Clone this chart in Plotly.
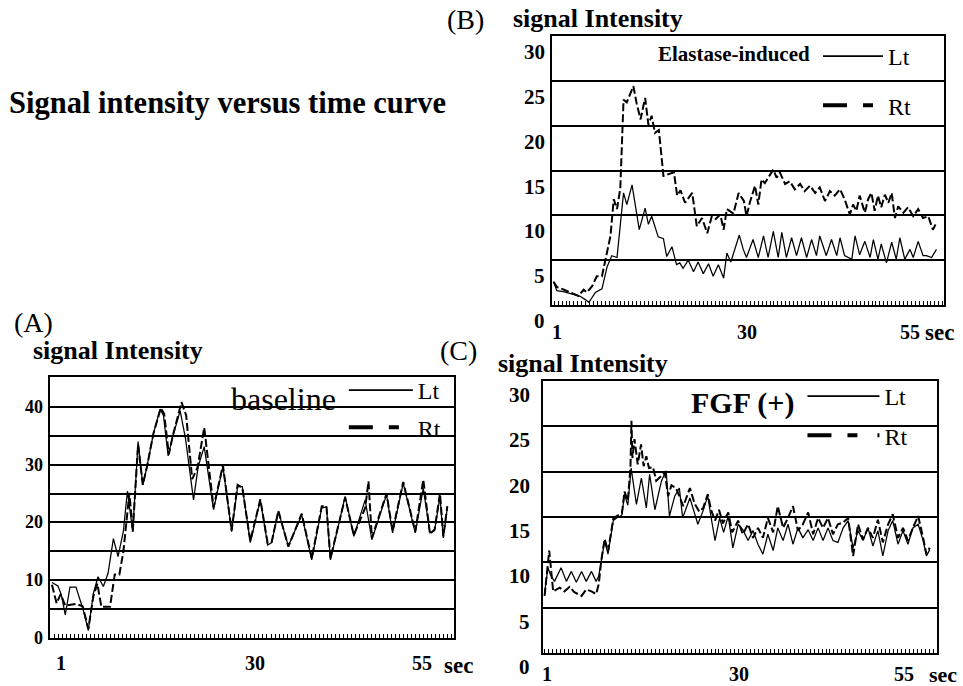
import plotly.graph_objects as go

W, H = 963, 686
FONT = "Liberation Serif"

# ---------------- data: t = time (sec), v = signal intensity ----------------
# (A) baseline
a_lt_t = [-0.4, 0.5, 1.0, 1.6, 2.3, 3.2, 4.3, 5.05, 5.8, 6.5, 7.3, 8.0, 8.8, 9.5, 10.3, 10.9, 11.7, 12.5, 13.2, 13.8,
          14.8, 15.8, 16.3, 17.0, 17.6, 18.8, 19.6, 20.8, 21.5, 22.4, 23.8, 25.2, 26.5, 27.4, 28.1, 29.3, 30.8, 31.9, 32.5, 33.5,
          35.0, 37.0, 38.5, 40.0, 40.7, 41.3, 43.5, 44.8, 46.5, 47.5, 49.7, 50.6, 52.2, 54.0, 55.2, 56.2, 56.9, 57.7, 58.2, 58.8]
a_lt_v = [9.6, 9.0, 7.5, 4.0, 8.8, 8.8, 4.8, 1.3, 7.7, 10.6, 8.9, 11.2, 17.2, 14.1, 18.5, 25.4, 18.5, 34.0, 26.5, 29.5,
          35.4, 39.6, 38.5, 31.5, 34.5, 39.3, 34.5, 23.9, 29.7, 33.1, 22.2, 29.7, 18.4, 26.2, 26.2, 16.5, 23.9, 16.1, 16.5, 21.9,
          15.9, 21.3, 13.5, 22.5, 22.7, 13.5, 24.5, 17.6, 23.9, 17.0, 24.8, 18.2, 26.8, 18.2, 25.9, 18.2, 18.6, 24.5, 17.3, 22.5]
a_rt_t = [-0.4, 0.3, 0.9, 1.6, 3.2, 4.2, 5.05, 5.8, 6.4, 7.0, 8.3, 9.0, 9.7, 10.3, 11.2, 11.7, 12.5, 13.2, 13.8, 14.8,
          15.9, 16.4, 17.1, 17.7, 19.0, 19.7, 20.6, 21.4, 22.4, 23.8, 25.2, 26.5, 27.4, 28.1, 29.3, 30.8, 31.9, 32.5, 33.5, 35.0,
          37.0, 38.5, 40.0, 40.7, 41.3, 43.5, 44.8, 46.5, 47.0, 47.5, 49.7, 50.6, 52.2, 54.0, 55.2, 56.2, 56.9, 57.7, 58.2, 58.8]
a_rt_v = [9.2, 6.0, 7.6, 5.6, 5.9, 5.5, 1.6, 7.2, 9.4, 5.4, 5.4, 11.0, 11.0, 15.0, 25.1, 18.4, 33.5, 26.5, 29.5, 35.4,
          39.8, 38.8, 31.8, 35.0, 40.8, 38.5, 27.5, 29.5, 36.4, 22.6, 29.9, 18.6, 26.5, 26.0, 16.8, 24.0, 16.4, 16.6, 22.0, 15.8,
          21.5, 13.8, 22.8, 22.8, 13.8, 24.3, 17.8, 22.5, 27.1, 17.3, 25.0, 18.5, 27.0, 18.4, 27.4, 18.0, 18.8, 25.0, 17.6, 22.8]

# (B) Elastase-induced
b_lt_t = [0.5, 1.0, 2.0, 3.3, 4.5, 5.35, 5.9, 6.9, 7.9, 8.7, 9.4, 10.2, 10.9, 11.2, 11.7, 12.5, 13.6, 14.5, 15.0, 15.5,
          16.5, 17.3, 17.8, 18.6, 19.3, 19.8, 20.3, 21.1, 21.9, 22.6, 23.4, 24.2, 24.9, 25.7, 26.5, 27.0, 27.6, 28.9, 29.5, 30.0,
          31.0, 31.8, 32.6, 33.3, 34.1, 34.85, 35.4, 36.1, 36.9, 37.65, 38.4, 39.2, 39.95, 40.7, 41.2, 42.2, 43.0, 43.8, 44.3, 45.0,
          46.1, 46.6, 47.3, 48.1, 48.9, 49.4, 50.1, 50.6, 51.4, 52.2, 52.9, 53.45, 54.2, 55.0, 55.5, 56.25, 57.0, 57.5, 58.3, 59.05]
b_lt_v = [2.6, 1.6, 1.5, 1.2, 1.0, 0.6, 0.3, 1.4, 1.8, 4.3, 5.5, 5.3, 10.2, 12.5, 11.2, 13.4, 8.4, 10.8, 9.0, 9.9,
          7.6, 7.4, 5.4, 6.5, 4.5, 4.7, 4.1, 5.0, 3.7, 4.8, 3.5, 4.6, 3.2, 4.5, 3.0, 5.8, 4.8, 7.8, 6.2, 5.3,
          7.3, 5.3, 7.7, 5.3, 8.2, 5.3, 8.1, 5.3, 7.5, 5.5, 7.5, 5.3, 7.3, 5.5, 7.7, 5.5, 7.3, 5.5, 7.5, 5.5,
          5.1, 7.7, 5.6, 7.1, 5.3, 7.3, 5.1, 6.8, 4.7, 7.0, 5.1, 7.5, 5.1, 6.2, 5.3, 7.1, 5.5, 5.5, 5.3, 6.2]
b_rt_t = [0.5, 1.0, 1.8, 2.8, 4.3, 5.1, 5.6, 6.4, 7.1, 7.9, 8.7, 9.2, 9.7, 10.2, 10.7, 11.2, 11.7, 12.2, 12.7, 13.2,
          13.8, 14.5, 15.0, 15.5, 16.0, 16.6, 17.3, 18.1, 18.9, 19.4, 19.9, 20.6, 21.7, 22.4, 23.2, 24.0, 24.7, 25.3, 26.0, 26.5,
          27.0, 28.0, 28.8, 29.6, 30.0, 30.5, 31.3, 31.8, 32.3, 32.8, 33.6, 34.1, 34.6, 35.1, 35.9, 36.6, 37.4, 38.2, 38.9, 39.7,
          40.5, 41.2, 42.0, 42.75, 43.5, 44.3, 45.0, 45.8, 46.3, 46.8, 47.3, 48.1, 48.6, 49.1, 49.6, 50.1, 50.6, 51.15, 51.7, 52.2,
          52.7, 53.2, 54.0, 54.7, 55.5, 56.25, 57.0, 57.8, 58.5, 59.05]
b_rt_v = [2.6, 2.0, 1.8, 1.5, 1.0, 1.7, 1.4, 2.1, 3.2, 3.2, 5.8, 7.7, 11.8, 10.7, 13.0, 22.9, 22.6, 23.5, 24.4, 22.5,
          20.7, 23.1, 20.1, 21.1, 19.2, 19.5, 14.4, 14.6, 14.8, 12.2, 12.8, 11.4, 12.5, 8.8, 9.7, 8.0, 9.9, 9.6, 10.1, 8.4,
          10.7, 10.2, 12.5, 11.6, 9.9, 11.4, 13.3, 11.2, 14.0, 13.6, 14.6, 15.1, 14.2, 14.8, 13.5, 13.8, 12.9, 13.5, 12.7, 13.3,
          12.5, 13.1, 11.6, 12.7, 12.2, 12.9, 11.8, 10.1, 11.2, 10.5, 12.2, 10.3, 11.8, 12.5, 10.5, 12.2, 10.9, 12.3, 11.4, 12.5,
          9.7, 11.0, 10.3, 10.9, 9.9, 10.7, 9.7, 9.9, 8.4, 9.2]

# (C) FGF (+)
c_lt_t = [0.6, 1.1, 1.5, 2.1, 3.1, 3.9, 4.65, 5.4, 6.2, 6.9, 7.7, 8.4, 8.8, 9.2, 9.7, 10.2, 11.0, 11.5, 12.3, 12.7,
          13.2, 13.7, 14.5, 15.25, 16.0, 16.5, 17.3, 18.3, 19.0, 19.5, 20.3, 21.0, 21.5, 22.6, 23.2, 23.8, 24.6, 25.3, 25.8, 26.4,
          27.1, 27.7, 28.4, 29.1, 29.9, 30.6, 31.4, 32.15, 32.9, 33.65, 34.4, 35.2, 35.9, 36.7, 37.45, 38.2, 38.95, 39.7, 40.5, 41.25,
          42.0, 42.75, 43.5, 44.25, 45.0, 45.8, 46.55, 47.3, 48.05, 48.8, 49.55, 50.3, 51.05, 51.8, 52.6, 53.3, 54.1, 54.85, 55.6, 56.35,
          57.15, 57.9, 58.4, 58.9]
c_lt_v = [6.6, 9.4, 8.6, 7.9, 9.4, 7.9, 9.0, 7.8, 9.0, 7.9, 9.0, 7.9, 8.5, 10.1, 12.4, 10.9, 14.6, 14.9, 15.2, 17.5,
          16.3, 20.4, 16.4, 19.3, 16.0, 19.7, 15.8, 19.0, 20.1, 15.1, 17.3, 18.2, 14.9, 17.1, 15.5, 14.2, 15.7, 17.3, 15.0, 12.4,
          14.9, 13.3, 15.1, 11.6, 14.2, 13.6, 12.4, 13.5, 12.0, 10.9, 13.1, 11.3, 13.8, 12.4, 14.2, 12.0, 13.8, 12.7, 13.6, 12.4,
          13.8, 12.4, 13.8, 12.4, 12.2, 13.8, 14.6, 11.6, 13.5, 12.4, 13.8, 11.8, 13.5, 10.7, 13.5, 14.6, 12.0, 13.5, 12.0, 13.8,
          14.2, 12.4, 10.7, 11.4]
c_rt_t = [0.6, 1.3, 1.9, 2.9, 3.6, 4.4, 5.1, 6.2, 6.9, 7.7, 8.4, 8.8, 9.2, 9.7, 10.2, 11.0, 11.5, 12.3, 12.7, 13.2,
          13.6, 13.75, 13.9, 14.2, 14.7, 15.2, 15.6, 16.0, 16.4, 17.0, 17.5, 18.3, 18.8, 19.3, 19.8, 20.5, 21.0, 21.6, 22.6, 23.3,
          24.0, 24.6, 25.3, 25.8, 26.4, 27.0, 27.6, 28.4, 29.0, 29.9, 30.6, 31.4, 32.15, 32.9, 33.65, 34.4, 35.2, 35.9, 36.7, 37.45,
          38.2, 38.95, 39.7, 40.5, 41.25, 42.0, 42.75, 43.5, 44.25, 45.0, 45.8, 46.55, 47.3, 48.05, 48.8, 49.55, 50.3, 51.05, 51.8, 52.6,
          53.3, 54.1, 54.85, 55.6, 56.35, 57.15, 57.9, 58.4, 58.9]
c_rt_v = [6.3, 11.3, 6.8, 7.2, 6.8, 7.3, 6.7, 6.3, 7.0, 6.8, 6.5, 7.6, 10.3, 12.6, 11.2, 14.8, 15.1, 15.4, 17.8, 16.8,
          20.5, 25.6, 21.5, 23.6, 20.8, 23.0, 20.6, 21.7, 20.4, 20.5, 19.0, 19.5, 19.9, 17.3, 18.5, 18.2, 17.3, 16.2, 18.2, 16.5,
          15.6, 16.0, 17.5, 15.8, 14.6, 15.8, 14.3, 15.5, 13.3, 14.6, 13.1, 14.2, 12.7, 13.8, 12.7, 14.9, 13.3, 16.2, 13.8, 14.9,
          16.2, 13.5, 14.2, 15.5, 13.1, 14.9, 13.8, 14.9, 13.1, 14.2, 14.4, 14.9, 10.7, 14.2, 12.5, 13.8, 12.7, 14.7, 12.2, 14.2,
          15.3, 12.7, 13.8, 12.4, 13.8, 15.1, 12.7, 10.9, 11.6]

# tick labels
a_ytick_vals = [0, 10, 20, 30, 40]
bc_ytick_vals = [0, 5, 10, 15, 20, 25, 30]
x_tick_vals = [1, 30, 55]
series_names = ["Lt", "Rt"]
panel_titles = ["baseline", "Elastase-induced", "FGF (+)"]

# ---------------- figure ----------------
fig = go.Figure()
LT_LINE = dict(color="black", width=1.25)
RT_LINE = dict(color="black", width=2.0, dash="8px,3px")

panels = [
    ("x", "y", "legend", a_lt_t, a_lt_v, a_rt_t, a_rt_v),
    ("x2", "y2", "legend2", b_lt_t, b_lt_v, b_rt_t, b_rt_v),
    ("x3", "y3", "legend3", c_lt_t, c_lt_v, c_rt_t, c_rt_v),
]
for xa, ya, leg, lt_t, lt_v, rt_t, rt_v in panels:
    fig.add_trace(go.Scatter(x=lt_t, y=lt_v, mode="lines", line=LT_LINE, xaxis=xa, yaxis=ya,
                             showlegend=False, hoverinfo="skip"))
    fig.add_trace(go.Scatter(x=rt_t, y=rt_v, mode="lines", line=RT_LINE, xaxis=xa, yaxis=ya,
                             showlegend=False, hoverinfo="skip"))
    # legend keys
    fig.add_trace(go.Scatter(x=[None], y=[None], mode="lines", name=series_names[0], xaxis=xa, yaxis=ya,
                             line=dict(color="black", width=1.6), legend=leg, legendgroup=leg + "lt"))
    fig.add_trace(go.Scatter(x=[None], y=[None], mode="lines", name=series_names[1], xaxis=xa, yaxis=ya,
                             line=dict(color="black", width=4, dash="24px,16px,10px,20px"),
                             legend=leg, legendgroup=leg + "rt"))

def xax(domain, rng, anchor):
    return dict(domain=domain, range=rng, anchor=anchor, showgrid=False, zeroline=False,
                showline=True, mirror=True, linecolor="black", linewidth=1.6,
                tickmode="linear", tick0=0, dtick=0.6, ticks="inside", ticklen=4,
                tickcolor="black", tickwidth=1, showticklabels=False)

def yax(domain, rng, anchor, grid_vals):
    return dict(domain=domain, range=rng, anchor=anchor, zeroline=False,
                showline=True, mirror=True, linecolor="black", linewidth=1.6,
                tickmode="array", tickvals=grid_vals, ticktext=[""] * len(grid_vals),
                ticks="", showgrid=True, gridcolor="black", gridwidth=1.5)

fig.update_layout(
    width=W, height=H, margin=dict(l=0, r=0, t=0, b=0),
    paper_bgcolor="white", plot_bgcolor="white",
    font=dict(family=FONT, color="black"),
    xaxis=xax([50 / W, 454 / W], [-0.69, 59.8], "y"),
    yaxis=yax([1 - 638 / H, 1 - 377 / H], [0, 45.16], "x", list(range(0, 45, 5))),
    xaxis2=xax([552 / W, 944 / W], [0.26, 60.2], "y2"),
    yaxis2=yax([1 - 305 / H, 1 - 36 / H], [0, 30], "x2", bc_ytick_vals),
    xaxis3=xax([543 / W, 937 / W], [0.36, 60.0], "y3"),
    yaxis3=yax([1 - 653 / H, 1 - 381 / H], [0, 30], "x3", bc_ytick_vals),
    hovermode=False,
)

common_leg = dict(xanchor="left", yanchor="top", bgcolor="rgba(0,0,0,0)", borderwidth=0,
                  font=dict(family=FONT, size=24, color="black"))
fig.update_layout(
    legend=dict(x=229 / W, y=1 - 368 / H, tracegroupgap=3, itemwidth=64,
                title=dict(text=panel_titles[0], side="left", font=dict(family=FONT, size=32)),
                **common_leg),
    legend2=dict(x=656 / W, y=1 - 34 / H, tracegroupgap=15, itemwidth=60,
                 title=dict(text=panel_titles[1], side="left",
                            font=dict(family=FONT, size=21, weight="bold")),
                 **common_leg),
    legend3=dict(x=689 / W, y=1 - 374 / H, tracegroupgap=5, itemwidth=72,
                 title=dict(text=panel_titles[2], side="left",
                            font=dict(family=FONT, size=30, weight="bold")),
                 **common_leg),
)

ann = []
def txt(text, x, y, size, bold=False, xanchor="left", yanchor="middle", **kw):
    d = dict(text=text, x=x, y=y, showarrow=False, xanchor=xanchor, yanchor=yanchor,
             font=dict(family=FONT, size=size, color="black", weight="bold" if bold else "normal"))
    d.update(kw)
    ann.append(d)

# titles
txt("Signal intensity versus time curve", 7 / W, 1 - 103 / H, 30.5, True, xref="paper", yref="paper")
txt("(A)", 12 / W, 1 - 322 / H, 28, xref="paper", yref="paper")
txt("signal Intensity", 31 / W, 1 - 350 / H, 26, True, xref="paper", yref="paper")
txt("(B)", 445 / W, 1 - 20 / H, 28, xref="paper", yref="paper")
txt("signal Intensity", 511 / W, 1 - 18 / H, 26, True, xref="paper", yref="paper")
txt("(C)", 438 / W, 1 - 350 / H, 28, xref="paper", yref="paper")
txt("signal Intensity", 496 / W, 1 - 363 / H, 26, True, xref="paper", yref="paper")

# y tick labels
for v in a_ytick_vals:
    txt(str(v), 0, v, 18, True, xanchor="right", xref="x domain", yref="y", xshift=-5)
for v in bc_ytick_vals:
    txt(str(v), 0, v, 21, True, xanchor="right", xref="x2 domain", yref="y2", xshift=-5, yshift=-16)
    txt(str(v), 0, v, 21, True, xanchor="right", xref="x3 domain", yref="y3", xshift=-11, yshift=-14)

# x tick labels
for xa, ya, ysh in [("x", "y", -25), ("x2", "y2", -27), ("x3", "y3", -21)]:
    for v in x_tick_vals:
        txt(str(v), v, 0, 20, True, xanchor="center", xref=xa, yref=ya + " domain", yshift=ysh)
txt("sec", 1, 0, 23, True, xref="x domain", yref="y domain", xshift=-12, yshift=-27)
txt("sec", 1, 0, 23, True, xref="x2 domain", yref="y2 domain", xshift=-21, yshift=-27)
txt("sec", 1, 0, 22, True, xref="x3 domain", yref="y3 domain", xshift=-10, yshift=-21)

fig.update_layout(annotations=ann)
fig.write_html("out.html", config={"displayModeBar": False},
               post_script="document.body.style.margin='0px';")
